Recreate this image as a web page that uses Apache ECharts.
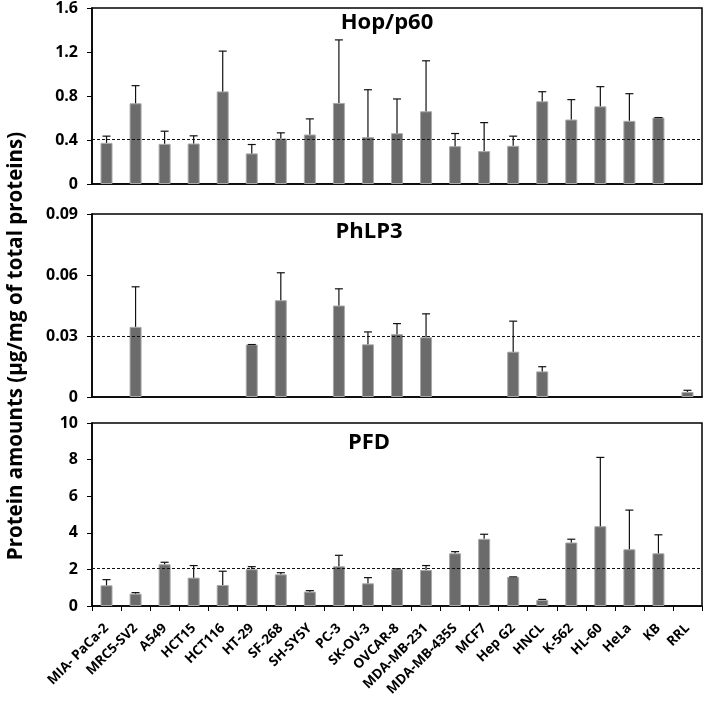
<!DOCTYPE html>
<html><head><meta charset="utf-8">
<script src="https://cdn.jsdelivr.net/npm/echarts@6/dist/echarts.min.js"></script>
<style>html,body{margin:0;padding:0;background:#fff}#c{width:707px;height:704px}</style>
</head><body><div id="c"></div>
<script>
const categories = ['MIA- PaCa-2','MRC5-SV2','A549','HCT15','HCT116','HT-29','SF-268','SH-SY5Y','PC-3','SK-OV-3','OVCAR-8','MDA-MB-231','MDA-MB-435S','MCF7','Hep G2','HNCL','K-562','HL-60','HeLa','KB','RRL'];

const hopValues = [0.374,0.734,0.365,0.368,0.842,0.278,0.414,0.45,0.737,0.426,0.462,0.661,0.344,0.299,0.347,0.752,0.586,0.706,0.574,0.604,null];
const hopErrTop = [0.435,0.894,0.48,0.438,1.208,0.359,0.465,0.592,1.31,0.857,0.773,1.12,0.459,0.558,0.435,0.839,0.767,0.885,0.821,0.604,null];
const hopMean = 0.405;

const phlpValues = [null,0.0345,null,null,null,0.0258,0.0476,null,0.045,0.0259,0.0309,0.0294,null,null,0.0223,0.0126,null,null,null,null,0.0025];
const phlpErrTop = [null,0.0542,null,null,null,0.0258,0.0611,null,0.0532,0.032,0.0361,0.0409,null,null,0.0373,0.0149,null,null,null,null,0.0033];
const phlpMean = 0.0304;

const pfdValues = [1.13,0.675,2.28,1.55,1.15,2.01,1.73,0.785,2.17,1.24,2.01,1.97,2.88,3.67,1.59,0.33,3.47,4.36,3.1,2.88,null];
const pfdErrTop = [1.44,0.73,2.39,2.21,1.9,2.15,1.82,0.84,2.77,1.55,2.03,2.21,2.97,3.92,1.59,0.36,3.65,8.12,5.24,3.89,null];
const pfdMean = 2.06;

const hopTicks = {min:0,max:1.6,interval:0.4};
const phlpTicks = {min:0,max:0.09,interval:0.03};
const pfdTicks = {min:0,max:10,interval:2};

const panelTitles = ['Hop/p60','PhLP3','PFD'];
const yTitle = 'Protein amounts (µg/mg of total proteins)';

const FONT = '"Open Sans", "Noto Sans", sans-serif';
const chart = echarts.init(document.getElementById('c'), null, {renderer:'canvas'});

const grids = [
  {left:92, right:5, top:7, height:177},
  {left:92, right:5, top:214, height:183},
  {left:92, right:5, top:423, height:183}
];
const ticks = [hopTicks, phlpTicks, pfdTicks];
const vals = [hopValues, phlpValues, pfdValues];
const errs = [hopErrTop, phlpErrTop, pfdErrTop];
const means = [hopMean, phlpMean, pfdMean];

const xAxes = grids.map((g,i)=>({
  type:'category', gridIndex:i, data:categories,
  axisLine:{show:true, lineStyle:{color:'#000', width:1.5}},
  axisTick:{show:i===2, alignWithLabel:false, length:5, lineStyle:{color:'#000'}},
  axisLabel:{show:i===2, rotate:45, interval:0, fontFamily:FONT, fontWeight:'bold', fontSize:13.5, color:'#000', margin:20},
  boundaryGap:true
}));
const yAxes = grids.map((g,i)=>({
  type:'value', gridIndex:i, min:ticks[i].min, max:ticks[i].max, interval:ticks[i].interval,
  axisLine:{show:true, lineStyle:{color:'#000', width:1.5}},
  axisTick:{show:true, length:5, lineStyle:{color:'#000'}},
  splitLine:{show:false},
  axisLabel:{fontFamily:FONT, fontWeight:'bold', fontSize:16, color:'#000', margin:14,
    formatter: v => i===1 ? (v===0?'0':v.toFixed(2)) : (i===0 ? (v===0?'0':v.toFixed(1)) : String(v))}
}));

const series = [];
for (let i=0;i<3;i++){
  series.push({
    type:'bar', xAxisIndex:i, yAxisIndex:i, data:vals[i], barWidth:12,
    itemStyle:{color:'#6b6b6b', borderColor:'#a8a8a8', borderWidth:1},
    markLine:{silent:true, symbol:'none', label:{show:false},
      lineStyle:{color:'#111', type:[3,2], width:1},
      data:[{yAxis:means[i]}]}
  });
  const ed = vals[i].map((v,k)=> v==null ? null : [k, v, errs[i][k]]).filter(d=>d);
  series.push({
    type:'custom', xAxisIndex:i, yAxisIndex:i, data:ed, z:5,
    renderItem:(params, api)=>{
      const x = api.value(0);
      const lo = api.coord([x, api.value(1)]);
      const hi = api.coord([x, api.value(2)]);
      const st = {stroke:'#111', lineWidth:1.2};
      return {type:'group', children:[
        {type:'line', shape:{x1:lo[0], y1:lo[1], x2:hi[0], y2:hi[1]}, style:st},
        {type:'line', shape:{x1:hi[0]-4, y1:hi[1], x2:hi[0]+4, y2:hi[1]}, style:st}
      ]};
    }
  });
}

const titleX = [387, 369, 369];
const titleY = [23, 232, 443];

chart.setOption({
  animation:false,
  backgroundColor:'#fff',
  grid: grids.map(g=>Object.assign({show:true, borderColor:'#000', borderWidth:1.5, backgroundColor:'transparent'}, g)),
  xAxis:xAxes, yAxis:yAxes, series:series,
  graphic: panelTitles.map((t,i)=>({type:'text', x:titleX[i], y:titleY[i],
      style:{text:t, fontFamily:FONT, fontWeight:'bold', fontSize:22, fill:'#000', textAlign:'center', textVerticalAlign:'middle'}}))
    .concat([{type:'text', rotation:Math.PI/2,
    x:16, y:346,
    style:{text:yTitle, fontFamily:FONT, fontWeight:'bold', fontSize:20.5, fill:'#000', textAlign:'center', textVerticalAlign:'middle'}}])
});
</script></body></html>
